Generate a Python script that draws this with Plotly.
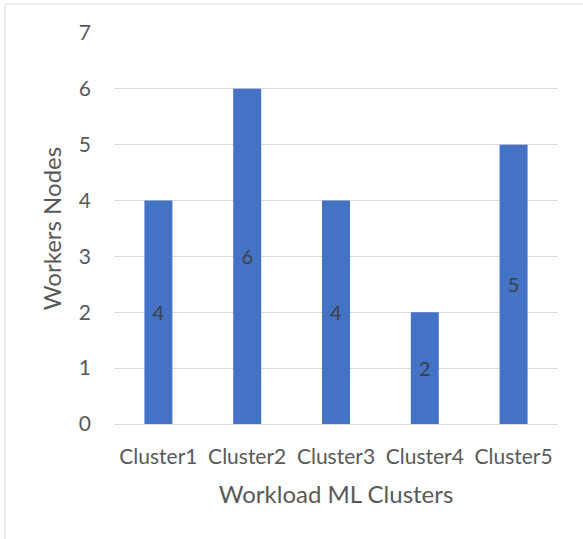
import plotly.graph_objects as go

# Worker node counts per workload cluster
clusters = ["Cluster1", "Cluster2", "Cluster3", "Cluster4", "Cluster5"]
workers = [4, 6, 4, 2, 5]
y_ticks = [0, 1, 2, 3, 4, 5, 6, 7]

FONT = "Lato, 'Open Sans', sans-serif"
GREY_TEXT = "#595959"

fig = go.Figure(
    go.Bar(
        x=clusters,
        y=workers,
        text=[str(v) for v in workers],
        textposition="inside",
        insidetextanchor="middle",
        textfont=dict(family=FONT, size=20, color="#404040"),
        marker=dict(color="#4472C4", line=dict(width=0)),
    )
)

fig.update_layout(
    width=583,
    height=539,
    margin=dict(l=114, r=25, t=33, b=115),
    paper_bgcolor="white",
    plot_bgcolor="white",
    bargap=0.685,
    showlegend=False,
    font=dict(family=FONT, color=GREY_TEXT),
    xaxis=dict(
        title=dict(text="Workload ML Clusters", font=dict(size=24, color=GREY_TEXT), standoff=18),
        tickfont=dict(size=21, color=GREY_TEXT),
        showgrid=False,
        showline=True,
        linecolor="#D9D9D9",
        linewidth=1,
        ticks="",
        ticklabelstandoff=14,
    ),
    yaxis=dict(
        title=dict(text="Workers Nodes", font=dict(size=24, color=GREY_TEXT), standoff=10),
        range=[0, 7],
        tickvals=y_ticks,
        tickfont=dict(size=21, color=GREY_TEXT),
        showgrid=True,
        gridcolor="#D9D9D9",
        gridwidth=1,
        zeroline=False,
        showline=False,
        ticks="",
        ticklabelstandoff=22,
    ),
    shapes=[
        dict(
            type="rect",
            xref="paper",
            yref="paper",
            x0=(5 - 114) / 444,
            x1=(600 - 114) / 444,
            y0=-(560 - 424) / 391,
            y1=1 + (33 - 4) / 391,
            line=dict(color="#D9D9D9", width=1),
            fillcolor="rgba(0,0,0,0)",
            layer="below",
        )
    ],
)

fig.write_html("out.html")
